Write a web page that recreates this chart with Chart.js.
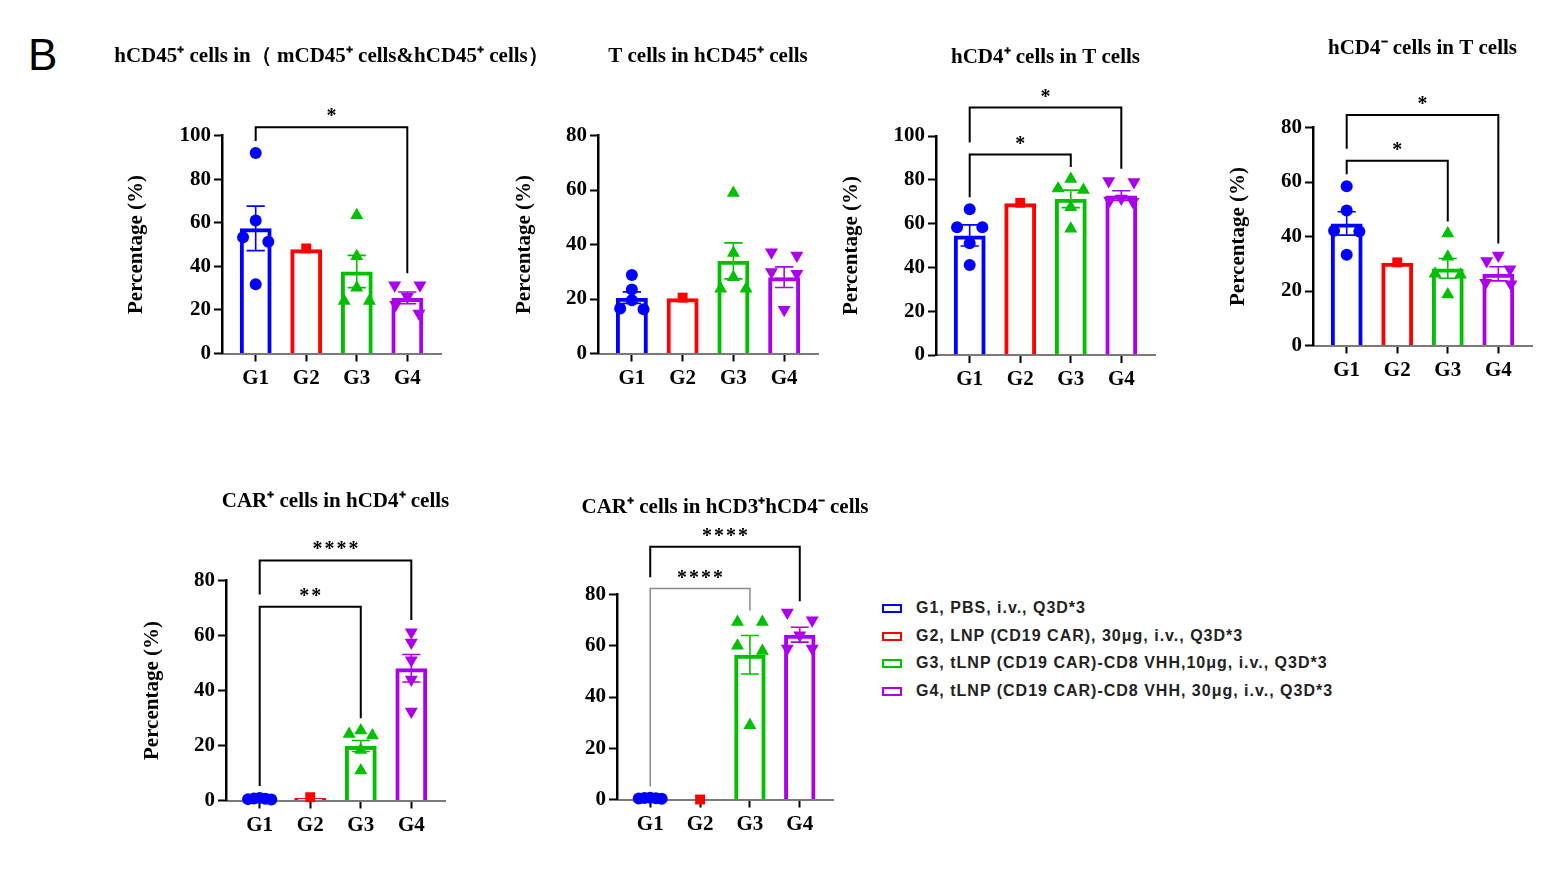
<!DOCTYPE html>
<html><head><meta charset="utf-8">
<script src="https://cdn.jsdelivr.net/npm/chart.js@4.4.1/dist/chart.umd.min.js"></script>
<style>
html,body{margin:0;padding:0;background:#fff;}
body{width:1541px;height:876px;position:relative;overflow:hidden;}
.panel{position:absolute;}
#letter{position:absolute;left:28px;top:30px;font:44px 'Liberation Sans',Arial,sans-serif;color:#000;}
.leg{position:absolute;left:882px;height:20px;line-height:20px;font:bold 16px 'Liberation Sans',Arial,sans-serif;letter-spacing:1px;color:#222;white-space:nowrap;}
.leg .box{position:absolute;left:0;top:5px;width:16px;height:5px;border:2.5px solid;}
.leg .txt{position:absolute;left:34px;top:0;}
</style>
</head><body>
<div id="letter">B</div>
<div id="legend"></div>
<script>
// ---------- DATA ----------
const groups = ['G1', 'G2', 'G3', 'G4'];
const legendLabels = [
  'G1, PBS, i.v., Q3D*3',
  'G2, LNP (CD19 CAR), 30μg, i.v., Q3D*3',
  'G3, tLNP (CD19 CAR)-CD8 VHH,10μg, i.v., Q3D*3',
  'G4, tLNP (CD19 CAR)-CD8 VHH, 30μg, i.v., Q3D*3'
];
const titles = [
  'hCD45⁺ cells in（ mCD45⁺ cells&hCD45⁺ cells）',
  'T cells in hCD45⁺ cells',
  'hCD4⁺ cells in T cells',
  'hCD4⁻ cells in T cells',
  'CAR⁺ cells in hCD4⁺ cells',
  'CAR⁺ cells in hCD3⁺hCD4⁻ cells'
];
const yTitle = 'Percentage (%)';
const yMaxes = [100, 80, 100, 80, 80, 80];
const ySteps = [20, 20, 20, 20, 20, 20];

// Panel 1: hCD45+ cells
const p1Means = [57.4, 47.8, 37.6, 25.5];
const p1Sem = [10.2, 0, 7.4, 2.7];
const p1Points = [[92, 61, 53.3, 51.3, 31.8], [48.2], [63.4, 44.6, 30.2, 24.1, 24.1], [31.3, 31.3, 26, 22.4, 18.3]];
const p1Sig = [[1, 4, '*', 103.8]];

// Panel 2: T cells in hCD45+
const p2Means = [20.5, 20.3, 34, 28];
const p2Sem = [2.1, 0, 6.6, 3.8];
const p2Points = [[28.8, 23.5, 19.5, 16.5, 16.2], [20.5], [58.9, 36.9, 28, 23.8, 23.8], [37.2, 36, 29.9, 29.3, 16.1]];
const p2Sig = [];

// Panel 3: hCD4+ in T cells
const p3Means = [54.6, 69.3, 71.3, 72.8];
const p3Sem = [4.8, 0, 4, 2.2];
const p3Points = [[66.5, 58.3, 58.3, 51, 41.1], [69.5], [80.4, 76, 75.3, 67.5, 57.6], [79.5, 79, 71.5, 70.5, 70]];
const p3Sig = [[1, 3, '*', 91.5], [1, 4, '*', 113]];

// Panel 4: hCD4- in T cells
const p4Means = [44.8, 30.4, 28.3, 26.3];
const p4Sem = [4.3, 0, 3.6, 2.6];
const p4Points = [[58.4, 49.5, 42.1, 41.8, 33.3], [30.5], [41.1, 32.6, 26.3, 26, 18.7], [33, 31, 28, 23, 22.5]];
const p4Sig = [[1, 3, '*', 67.8], [1, 4, '*', 84.6]];

// Panel 5: CAR+ in hCD4+
const p5Means = [0.5, 0.9, 19.8, 48.1];
const p5Sem = [0.1, 0, 2, 5];
const p5Points = [[0.9, 0.7, 0.6, 0.5, 0.4], [1.2], [25.5, 24.2, 23.6, 18.4, 10.9], [61.2, 57.5, 51, 44, 32.4]];
const p5Sig = [[1, 3, '**', 70.5], [1, 4, '****', 87.3]];

// Panel 6: CAR+ in hCD3+hCD4-
const p6Means = [0.4, 0, 56.5, 64.3];
const p6Sem = [0.1, 0, 7.5, 2.9];
const p6Points = [[0.7, 0.6, 0.5, 0.4, 0.3], [0], [69.3, 69.3, 60, 58, 29], [73, 70, 64.1, 58.9, 58.9]];
const p6Sig = [[1, 3, '****', 82.3], [1, 4, '****', 98.6]];

// ---------- STYLE / LAYOUT ----------
const colors = ['#0000ff', '#ff0000', '#00c000', '#aa00ee'];
const pStyles = ['circle', 'rect', 'triangle', 'triangle'];
const pRadius = [6, 7, 7.5, 7.5];
const pRot = [0, 0, 0, 180];
const FS = 21;           // font size
const YW = 150, XH = 46; // y-axis box width (mirrored by a blank right box so titles centre on the plot)
const serif = "'Liberation Serif','Times New Roman',serif";
const panels = [
  {means: p1Means, sem: p1Sem, pts: p1Points, sig: p1Sig, l: 222, t: 135, r: 441, b: 353, ty: 56, yt: 137, sigCol: ['#000']},
  {means: p2Means, sem: p2Sem, pts: p2Points, sig: p2Sig, l: 598, t: 135, r: 818, b: 353, ty: 56, yt: 525, sigCol: []},
  {means: p3Means, sem: p3Sem, pts: p3Points, sig: p3Sig, l: 936, t: 136, r: 1155, b: 355, ty: 57.5, yt: 851.5, sigCol: ['#000', '#000']},
  {means: p4Means, sem: p4Sem, pts: p4Points, sig: p4Sig, l: 1313, t: 127, r: 1532, b: 345, ty: 48, yt: 1239, sigCol: ['#000', '#000']},
  {means: p5Means, sem: p5Sem, pts: p5Points, sig: p5Sig, l: 226, t: 580, r: 445, b: 800, ty: 501, yt: 152.5, sigCol: ['#000', '#000']},
  {means: p6Means, sem: p6Sem, pts: p6Points, sig: p6Sig, l: 617, t: 594, r: 833, b: 799, ty: 507, yt: null, sigCol: ['#8a8a8a', '#000']}
];

// beeswarm-like horizontal spreading of replicate points (computed from values)
function spread(vals, thr) {
  const idx = vals.map((v, i) => i).sort((a, b) => vals[b] - vals[a]);
  const off = new Array(vals.length).fill(0);
  let k = 0;
  while (k < idx.length) {
    let j = k;
    while (j + 1 < idx.length && vals[idx[j]] - vals[idx[j + 1]] < thr) j++;
    const n = j - k + 1;
    const pattern = n === 1 ? [0] : n === 2 ? [-1, 1] : n === 3 ? [0, -1, 1] : n === 4 ? [-1.5, -0.5, 0.5, 1.5] : [0, -1, 1, -2, 2];
    const s = n === 1 ? 0 : Math.min(0.25, 0.46 / (n - 1));
    for (let q = 0; q < n; q++) off[idx[k + q]] = pattern[q] * s;
    k = j + 1;
  }
  return off;
}

function extrasPlugin(p, yMax) {
  return {
    id: 'extras',
    afterDatasetsDraw(chart) {
      const {ctx, scales: {x, y}} = chart;
      ctx.save();
      // error bars (mean ± SEM)
      p.means.forEach((m, i) => {
        if (!p.sem[i]) return;
        const px = x.getPixelForValue(i + 1);
        const half = x.getPixelForValue(1.18) - x.getPixelForValue(1);
        const y1 = y.getPixelForValue(m - p.sem[i]), y2 = y.getPixelForValue(m + p.sem[i]);
        ctx.strokeStyle = colors[i];
        ctx.lineWidth = 1.6;
        ctx.beginPath();
        ctx.moveTo(px, y1); ctx.lineTo(px, y2);
        ctx.moveTo(px - half, y1); ctx.lineTo(px + half, y1);
        ctx.moveTo(px - half, y2); ctx.lineTo(px + half, y2);
        ctx.stroke();
      });
      // significance brackets
      const gap = 0.055 * yMax;
      const tops = p.pts.map((arr, i) => Math.max(...arr, p.means[i] + p.sem[i]));
      p.sig.forEach((s, si) => {
        const [g1, g2, label, level] = s;
        const legEnd = g => {
          let top = tops[g - 1];
          p.sig.forEach(o => { if (o[3] < level && g >= o[0] && g <= o[1]) top = Math.max(top, o[3]); });
          return y.getPixelForValue(Math.min(top + gap, level));
        };
        const x1 = x.getPixelForValue(g1), x2 = x.getPixelForValue(g2);
        const yl = y.getPixelForValue(level);
        ctx.strokeStyle = p.sigCol[si] || '#000';
        ctx.lineWidth = p.sigCol[si] === '#000' ? 2 : 1.5;
        ctx.beginPath();
        ctx.moveTo(x1, legEnd(g1)); ctx.lineTo(x1, yl); ctx.lineTo(x2, yl); ctx.lineTo(x2, legEnd(g2));
        ctx.stroke();
        ctx.fillStyle = '#000';
        ctx.font = 'bold 20px ' + serif;
        ctx.textAlign = 'center';
        ctx.textBaseline = 'alphabetic';
        ctx.letterSpacing = '2px';
        ctx.fillText(label, (x1 + x2) / 2 + 1, yl - 5);
      });
      ctx.restore();
    }
  };
}

panels.forEach((p, pi) => {
  const yMax = yMaxes[pi];
  const T0 = p.ty - FS / 2;
  const div = document.createElement('div');
  div.className = 'panel';
  div.style.left = (p.l - YW) + 'px';
  div.style.top = T0 + 'px';
  div.style.width = (YW + (p.r - p.l) + YW) + 'px';
  div.style.height = (p.b - T0 + XH) + 'px';
  const cv = document.createElement('canvas');
  div.appendChild(cv);
  document.body.appendChild(div);

  const thr = yMax * 0.042;
  const datasets = [{
    type: 'bar',
    data: p.means.map((v, i) => ({x: i + 1, y: v})),
    backgroundColor: 'rgba(255,255,255,0)',
    borderColor: colors,
    borderWidth: 4,
    borderSkipped: 'start',
    barPercentage: 0.63,
    categoryPercentage: 1,
    order: 2
  }];
  p.pts.forEach((arr, g) => {
    const off = spread(arr, thr);
    datasets.push({
      type: 'scatter',
      data: arr.map((v, k) => ({x: g + 1 + off[k], y: v})),
      pointStyle: pStyles[g],
      pointRadius: pRadius[g],
      pointRotation: pRot[g],
      backgroundColor: colors[g],
      borderColor: colors[g],
      borderWidth: 0,
      clip: false,
      order: 1
    });
  });

  new Chart(cv, {
    type: 'scatter',
    data: {datasets},
    options: {
      responsive: true,
      maintainAspectRatio: false,
      animation: false,
      events: [],
      layout: {padding: 0},
      plugins: {
        legend: {display: false},
        tooltip: {enabled: false},
        title: {
          display: true, text: titles[pi], fullSize: true, color: '#000',
          font: {family: serif, size: FS, weight: 'bold', lineHeight: 1},
          padding: {top: 0, bottom: p.t - p.ty - FS / 2}
        }
      },
      scales: {
        x: {
          type: 'linear', min: 1 / 3, max: 4 + 2 / 3, offset: false,
          afterBuildTicks: s => { s.ticks = groups.map((g, i) => ({value: i + 1})); },
          afterFit: s => { s.height = XH; },
          ticks: {callback: v => groups[v - 1], color: '#000', padding: 4, autoSkip: false, maxRotation: 0,
                  font: {family: serif, size: FS, weight: 'bold'}},
          grid: {display: true, offset: false, drawOnChartArea: false, drawTicks: true, tickLength: 8, tickWidth: 2, tickColor: '#000'},
          border: {display: true, color: '#7a7a7a', width: 2}
        },
        y: {
          min: 0, max: yMax,
          afterFit: s => { s.width = YW; },
          ticks: {stepSize: ySteps[pi], color: '#000', padding: 3, font: {family: serif, size: FS, weight: 'bold'}},
          grid: {display: true, drawOnChartArea: false, drawTicks: true, tickLength: 8, tickWidth: 2, tickColor: '#000'},
          border: {display: true, color: '#000', width: 2.5},
          title: {
            display: p.yt !== null, text: yTitle, color: '#000',
            font: {family: serif, size: FS, weight: 'bold', lineHeight: 1},
            padding: {top: p.yt !== null ? p.yt - (p.l - YW) - FS / 2 : 0, bottom: 0}
          }
        },
        yBlank: {
          position: 'right', display: true, min: 0, max: 1,
          afterFit: s => { s.width = YW; },
          ticks: {display: false},
          grid: {display: false},
          border: {display: false}
        }
      }
    },
    plugins: [extrasPlugin(p, yMax)]
  });
});

// legend (HTML)
const legRowsY = [599, 627, 654, 682];
const legend = document.getElementById('legend');
legendLabels.forEach((lab, i) => {
  const row = document.createElement('div');
  row.className = 'leg';
  row.style.top = legRowsY[i] + 'px';
  row.innerHTML = '<span class="box" style="border-color:' + colors[i] + '"></span><span class="txt"></span>';
  row.querySelector('.txt').textContent = lab;
  legend.appendChild(row);
});
</script>
</body></html>
